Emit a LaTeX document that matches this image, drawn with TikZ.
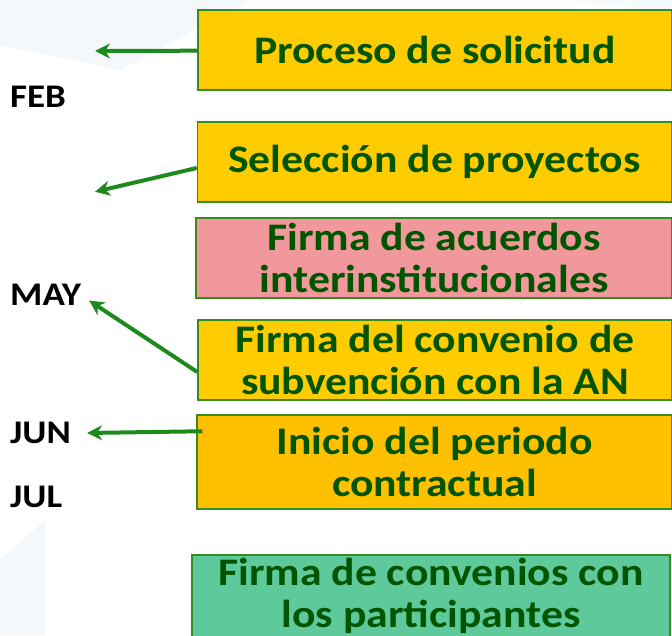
\documentclass[tikz,border=0pt]{standalone}
\usepackage{fontspec}
\setmainfont{Carlito}[FakeStretch=1.12]
\usetikzlibrary{arrows.meta}
\definecolor{amarillo}{HTML}{FFCC00}
\definecolor{naranja}{HTML}{FFC000}
\definecolor{rosa}{HTML}{F0989C}
\definecolor{verdeclaro}{HTML}{5EC99B}
\definecolor{borde}{HTML}{3A8A22}
\definecolor{textoverde}{HTML}{005500}
\definecolor{flechaverde}{HTML}{1C8A1C}
\definecolor{fondo}{HTML}{E4EEF5}
\tikzstyle{every picture}=[x=1pt, y=-1pt, shorten >=1pt]
\tikzstyle{etapa}=[draw=borde, line width=1.5pt, minimum width=474pt, minimum height=80pt,%
	inner sep=0pt, align=center, text=textoverde, font=\fontsize{39}{42}\selectfont\bfseries]
\tikzstyle{mes}=[anchor=west, inner sep=1pt, font=\fontsize{33}{36}\selectfont\bfseries]
\tikzstyle{flecha}=[-{Stealth[length=15pt,width=15pt]}, draw=flechaverde, fill=flechaverde, line width=4pt]

\begin{document}
\begin{tikzpicture}
	\useasboundingbox (0,0) rectangle (672,635);
	% fondo de la diapositiva
	\fill[fondo, opacity=0.4] (0,0) -- (250,0) -- (120,70) -- (0,45) -- cycle;
	\fill[fondo, opacity=0.3] (560,0) -- (672,0) -- (672,12) -- cycle;
	\fill[fondo, opacity=0.4] (0,560) -- (45,520) -- (45,635) -- (0,635) -- cycle;
	% etapas
	\node (P) [etapa, fill=amarillo] at (435,50) {Proceso de solicitud};
	\node (S) [etapa, fill=amarillo] at (434.5,162) {Selección de proyectos};
	\node (A) [etapa, fill=rosa, minimum width=476pt] at (434,258) {Firma de acuerdos\\interinstitucionales};
	\node (C) [etapa, fill=amarillo] at (435,360) {Firma del convenio de\\subvención con la AN};
	\node (I) [etapa, fill=naranja, minimum width=475pt, minimum height=94pt] at (434.5,462) {Inicio del periodo\\contractual};
	\node (F) [etapa, fill=verdeclaro, minimum width=478pt, minimum height=82pt] at (431,596) {Firma de convenios con\\los participantes};
	% meses
	\node (Feb) [mes] at (9,97) {FEB};
	\node (May) [mes] at (9,295) {MAY};
	\node (Jun) [mes] at (9,433) {JUN};
	\node (Jul) [mes] at (9,497) {JUL};
	\coordinate (p1) at (94,51);
	\coordinate (p2) at (94,192);
	\draw[flecha] (P) -- (p1);
	\draw[flecha] ([yshift=-6pt]S.west) -- (p2);
	\draw[flecha] ([yshift=-12pt]C.west) -- ([xshift=6pt,yshift=-5pt]May.east);
	\draw[flecha] ([xshift=6pt,yshift=-17pt]I.north west) -- ([xshift=14pt]Jun.east);
\end{tikzpicture}
\end{document}
